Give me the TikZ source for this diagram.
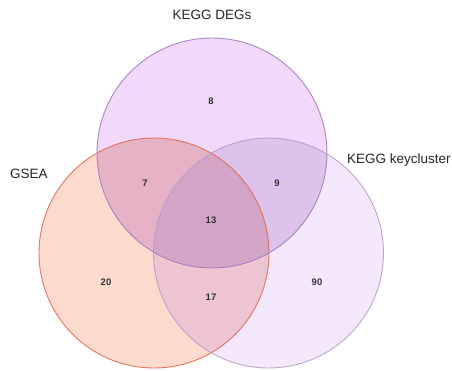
\documentclass[tikz,border=0pt]{standalone}
\usepackage{fontspec}
\setmainfont{Liberation Sans}
\begin{document}
\begin{tikzpicture}[x=1pt,y=-1pt,
  setcirc/.style={circle,minimum size=230pt,inner sep=0pt},
  setlabel/.style={font=\fontsize{13.5}{15}\selectfont,text=black!85,inner sep=0pt},
  count/.style={font=\fontsize{9.5}{11}\selectfont\bfseries,text=black!80,inner sep=0pt}]
\definecolor{degonly}{RGB}{242,216,250}
\definecolor{gseaonly}{RGB}{253,218,206}
\definecolor{keyonly}{RGB}{244,233,252}
\definecolor{gseadeg}{RGB}{230,178,198}
\definecolor{gseakey}{RGB}{236,196,210}
\definecolor{degkey}{RGB}{221,195,236}
\definecolor{triple}{RGB}{212,164,198}
\definecolor{degline}{RGB}{160,125,190}
\definecolor{gsealine}{RGB}{225,105,85}
\definecolor{keyline}{RGB}{180,160,200}
\useasboundingbox (0,0) rectangle (452,370);
\fill[white] (0,0) rectangle (452,370);
\node[setcirc,fill=gseaonly] (gsea) at (154,253) {};
\node[setcirc,fill=keyonly] (key) at (268.5,253) {};
\node[setcirc,fill=degonly] (deg) at (212,153) {};
% overlaps
\begin{scope}
  \clip (gsea.center) circle (115pt);
  \fill[gseakey] (key.center) circle (115pt);
  \fill[gseadeg] (deg.center) circle (115pt);
\end{scope}
\begin{scope}
  \clip (deg.center) circle (115pt);
  \fill[degkey] (key.center) circle (115pt);
  \clip (gsea.center) circle (115pt);
  \fill[triple] (key.center) circle (115pt);
\end{scope}
% outlines
\draw[gsealine,line width=0.9pt,draw opacity=0.9] (gsea.center) circle (115pt);
\draw[keyline,line width=0.9pt,draw opacity=0.9] (key.center) circle (115pt);
\draw[degline,line width=0.9pt,draw opacity=0.9] (deg.center) circle (115pt);
\node[setlabel] (ldeg) at (212,15) {KEGG DEGs};
\node[setlabel,anchor=west] (lgsea) at (10,174) {GSEA};
\node[setlabel,anchor=west] (lkey) at (347,160) {KEGG keycluster};
\node[count] (n8) at (211,101) {8};
\node[count] (n7) at (145,183) {7};
\node[count] (n9) at (277,183) {9};
\node[count] (n13) at (211,220) {13};
\node[count] (n20) at (106,282) {20};
\node[count] (n17) at (211,297) {17};
\node[count] (n90) at (317,282) {90};
\end{tikzpicture}
\end{document}
